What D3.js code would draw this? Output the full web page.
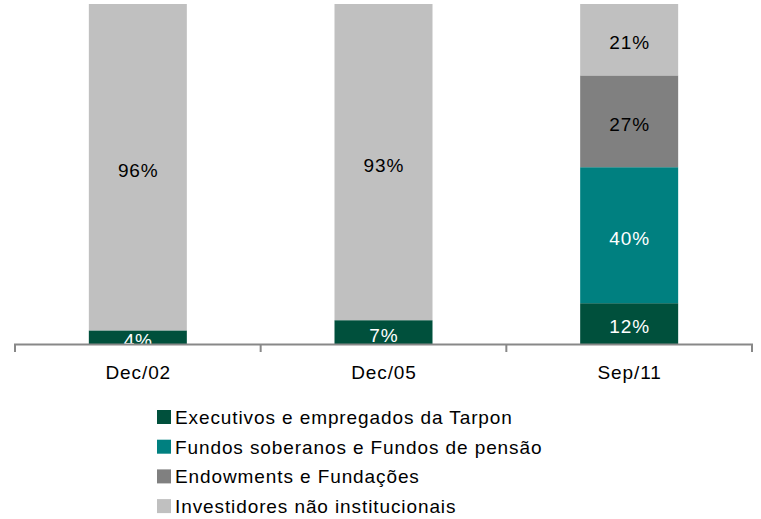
<!DOCTYPE html>
<html><head><meta charset="utf-8">
<script src="https://cdn.jsdelivr.net/npm/d3@7"></script>
<style>body{margin:0;background:#fff}svg{display:block;font-family:"Liberation Sans",Arial,sans-serif}</style>
</head><body><svg id="c" width="761" height="519"></svg>
<script>
const categories = ["Dec/02", "Dec/05", "Sep/11"];
const seriesNames = ["Executivos e empregados da Tarpon", "Fundos soberanos e Fundos de pensão", "Endowments e Fundações", "Investidores não institucionais"];
const executivos = [4, 7, 12];
const fundos = [0, 0, 40];
const endowments = [0, 0, 27];
const investidores = [96, 93, 21];
const colors = ["#00503C", "#008080", "#808080", "#C0C0C0"];
const textColors = ["#fff", "#fff", "#000", "#000"];

const series = [executivos, fundos, endowments, investidores];
const rows = categories.map((c, i) => { const r = {cat: c}; seriesNames.forEach((s, j) => r[s] = series[j][i]); return r; });
const stacked = d3.stack().keys(seriesNames)(rows);

const svg = d3.select("#c");
const FS = 19, LS = 0.9;
const x = d3.scaleBand().domain(categories).range([15, 752]).paddingInner(0).paddingOuter(0);
const y = d3.scaleLinear().domain([0, 100]).range([344, 4]);
const barW = 98;

const g = svg.append("g");
stacked.forEach((s, j) => {
  s.forEach((d, i) => {
    if (d[1] - d[0] <= 0) return;
    const cx = x(categories[i]) + x.bandwidth() / 2;
    g.append("rect").attr("x", cx - barW / 2).attr("width", barW)
      .attr("y", y(d[1])).attr("height", y(d[0]) - y(d[1])).attr("fill", colors[j]);
  });
});
stacked.forEach((s, j) => {
  s.forEach((d, i) => {
    const v = d[1] - d[0];
    if (v <= 0) return;
    const cx = x(categories[i]) + x.bandwidth() / 2 + LS / 2;
    g.append("text").attr("x", cx).attr("y", (y(d[0]) + y(d[1])) / 2 + 9.5)
      .attr("text-anchor", "middle").attr("letter-spacing", LS)
      .attr("font-size", FS).attr("fill", textColors[j]).text(v + "%");
  });
});

// axis
const ax = svg.append("g");
ax.append("line").attr("x1", 14).attr("x2", 753).attr("y1", 344.5).attr("y2", 344.5).attr("stroke", "#888").attr("stroke-width", 2);
const ticks = [15, ...categories.map(c => x(c) + x.bandwidth())];
ticks.forEach(t => ax.append("line").attr("x1", t).attr("x2", t).attr("y1", 344).attr("y2", 352).attr("stroke", "#888").attr("stroke-width", 2));
categories.forEach(c => ax.append("text").attr("x", x(c) + x.bandwidth() / 2 + LS / 2).attr("y", 379)
  .attr("text-anchor", "middle").attr("letter-spacing", LS).attr("font-size", FS).attr("fill", "#000").text(c));

// legend
const lg = svg.append("g");
seriesNames.forEach((s, j) => {
  const base = 424 + j * 29.7;
  lg.append("rect").attr("x", 157).attr("y", base - 14).attr("width", 14).attr("height", 14).attr("fill", colors[j]);
  lg.append("text").attr("x", 175).attr("y", base).attr("letter-spacing", LS).attr("font-size", FS).attr("fill", "#000").text(s);
});
</script></body></html>
